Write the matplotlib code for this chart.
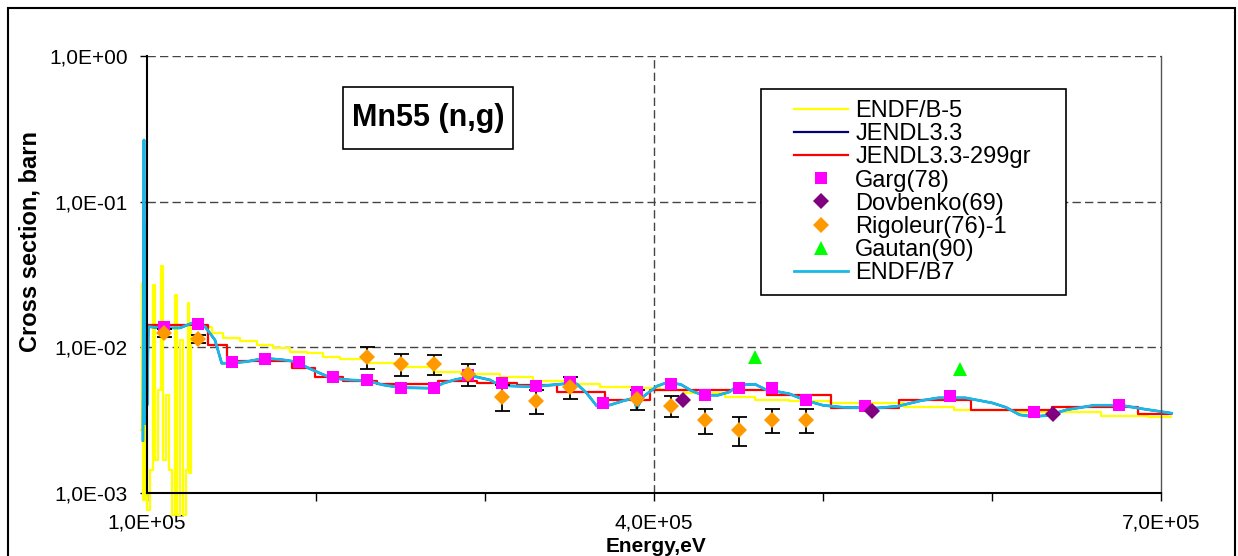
import matplotlib
matplotlib.use("Agg")
import matplotlib.pyplot as plt
from matplotlib.patches import Rectangle

plt.rcParams['font.family'] = ['Liberation Sans', 'DejaVu Sans']

# ENDF/B-5 (yellow), energy in keV
endf5_e = [96.7, 97.0, 97.6, 98.8, 100.0, 101.8, 103.6, 104.7, 106.5, 108.0, 109.5,
           111.2, 113.0, 114.8, 116.6, 117.8, 119.5, 121.3, 123.1, 124.4, 125.1, 126.0,
           133.3, 138.3, 145.1, 155.0, 164.9, 174.7, 184.6, 194.5, 204.3, 214.2,
           230.0, 249.7, 269.4, 289.2, 308.9, 328.6, 348.3, 368.0, 387.8, 403.6,
           417.8, 441.8, 459.9, 480.0, 504.1, 547.9, 577.3, 612.4, 664.5, 692.3, 706.2]
endf5_v = [0.0027, 0.0277, 0.0009, 0.0032, 0.00077, 0.00144, 0.0268, 0.00169, 0.0051, 0.0359, 0.00169,
           0.0047, 0.00144, 0.00071, 0.0229, 0.00071, 0.0112, 0.00071, 0.00144, 0.0202, 0.00138, 0.0136,
           0.01387, 0.0125, 0.01154, 0.01111, 0.01038, 0.00986, 0.00934, 0.0091, 0.00863, 0.00828,
           0.00785, 0.00730, 0.00681, 0.00657, 0.00623, 0.00588, 0.00561, 0.00537, 0.00524, 0.00510,
           0.00483, 0.00454, 0.00433, 0.00426, 0.00415, 0.00389, 0.00369, 0.00359, 0.00338, 0.00330, 0.00330]

# ENDF/B7 (and JENDL3.3, which lies underneath it)
b7_e = [97.6, 98.2, 98.8, 99.4, 100.0, 100.8, 107.7, 119.5, 127.4, 134.3, 140.2, 144.2, 149.1,
        159.0, 169.8, 180.7, 189.5, 194.5, 202.4, 209.3, 220.1, 230.0, 239.8, 249.7, 269.4,
        275.3, 283.3, 294.1, 303.0, 308.9, 328.6, 346.3, 354.3, 360.2, 366.1, 374.0, 381.8,
        387.8, 389.8, 393.7, 401.8, 407.7, 415.8, 421.8, 428.8, 437.9, 444.8, 449.9, 459.9,
        465.9, 480.0, 490.0, 500.0, 512.1, 532.1, 544.1, 558.2, 568.2, 584.3, 600.3, 608.3,
        616.4, 624.4, 632.4, 644.4, 660.5, 676.5, 688.6, 706.2]
b7_v = [0.0023, 0.265, 0.003, 0.07, 0.004, 0.01387, 0.01359, 0.01359, 0.01479, 0.01387, 0.01124,
        0.00778, 0.00778, 0.00798, 0.00842, 0.00820, 0.00791, 0.00730, 0.00664, 0.00614, 0.00597,
        0.00591, 0.00552, 0.00529, 0.00524, 0.00567, 0.00604, 0.00630, 0.00597, 0.00546, 0.00537,
        0.00561, 0.00561, 0.00484, 0.00396, 0.00402, 0.00429, 0.00448, 0.00382, 0.00459, 0.00542,
        0.00573, 0.00557, 0.00506, 0.00469, 0.00469, 0.00495, 0.00551, 0.00557, 0.00514, 0.00480,
        0.00431, 0.00400, 0.00387, 0.00383, 0.00394, 0.00431, 0.00450, 0.00450, 0.00415, 0.00387,
        0.00344, 0.00335, 0.00340, 0.00373, 0.00400, 0.00400, 0.00379, 0.00353]

# JENDL3.3-299gr group values (steps)
j299_e = [97.6, 100.6, 136.3, 147.2, 185.6, 199.4, 216.2, 235.9, 272.4, 295.1, 318.8,
          342.4, 371.0, 397.6, 466.9, 505.0, 545.1, 587.3, 635.4, 686.6, 706.2]
j299_v = [0.0099, 0.01425, 0.01038, 0.00807, 0.00719, 0.00625, 0.00591, 0.00558, 0.00588, 0.00573,
          0.00552, 0.00492, 0.00436, 0.00510, 0.00469, 0.00383, 0.00438, 0.00369, 0.00387, 0.00348, 0.00348]

garg_e = [110, 130, 150, 170, 190, 210, 230, 250, 270, 290, 310, 330, 350, 370, 390,
          410, 430, 450, 470, 490, 525, 575, 625, 675]
garg_v = [0.01374, 0.01448, 0.00798, 0.00828, 0.00798, 0.00622, 0.00597, 0.00529, 0.00529,
          0.00647, 0.00567, 0.00546, 0.00576, 0.00413, 0.00497, 0.00557, 0.00474, 0.00522,
          0.00522, 0.00433, 0.00394, 0.00462, 0.00359, 0.00404]

dovb_e = [417, 529, 636]
dovb_v = [0.00438, 0.00363, 0.00350]

rig_e = [110, 130, 230, 250, 270, 290, 310, 330, 350, 390, 410, 430, 450, 470, 490]
rig_v = [0.01262, 0.01142, 0.00863, 0.00766, 0.00766, 0.00653, 0.00459, 0.00431, 0.00537,
         0.00442, 0.00397, 0.00318, 0.00270, 0.00318, 0.00318]
rig_err = [0.0008, 0.00073, 0.0015, 0.0013, 0.00119, 0.00113, 0.00093, 0.0008, 0.00093,
           0.00071, 0.00065, 0.00062, 0.0006, 0.0006, 0.0006]

gaut_e = [460, 581]
gaut_v = [0.00855, 0.00708]

yticks = [1e-3, 1e-2, 1e-1, 1.0]
ytick_labels = ['1,0E-03', '1,0E-02', '1,0E-01', '1,0E+00']
xticks = [1e5, 4e5, 7e5]
xtick_labels = ['1,0E+05', '4,0E+05', '7,0E+05']
xminor = [2e5, 3e5, 5e5, 6e5]

W, H = 1238, 556


def fx(px):
    return px / W


def fy(py):
    return 1 - py / H


def kev(lst):
    return [e * 1e3 for e in lst]


fig = plt.figure(figsize=(W / 100, H / 100), dpi=100)
ax = fig.add_axes([fx(147), fy(493), fx(1161) - fx(147), fy(56) - fy(493)])

l_b5, = ax.plot(kev(endf5_e), endf5_v, color='#FFFF00', lw=1.6, drawstyle='steps-post',
                clip_on=False, zorder=2)
l_j33, = ax.plot(kev(b7_e), b7_v, color='#000080', lw=1.6, clip_on=False, zorder=2.1)
l_299, = ax.plot(kev(j299_e), j299_v, color='#FF0000', lw=1.6, drawstyle='steps-post',
                 clip_on=False, zorder=2.2)
l_b7, = ax.plot(kev(b7_e), b7_v, color='#19B8E6', lw=2.0, clip_on=False, zorder=2.3)

ax.errorbar(kev(rig_e), rig_v, yerr=rig_err, fmt='none', ecolor='black', elinewidth=1.3,
            capsize=5.4, capthick=1.3, zorder=3)
m_garg, = ax.plot(kev(garg_e), garg_v, 's', color='#FF00FF', ms=8.6, mew=0, zorder=4)
m_dov, = ax.plot(kev(dovb_e), dovb_v, 'D', color='#800080', ms=8.5, mew=0, zorder=4)
m_rig, = ax.plot(kev(rig_e), rig_v, 'D', color='#FF9900', ms=8.5, mew=0, zorder=4)
m_gau, = ax.plot(kev(gaut_e), gaut_v, '^', color='#00FF00', ms=10, mew=0, zorder=4)

ax.set_yscale('log')
ax.set_xlim(1e5, 7e5)
ax.set_ylim(1e-3, 1)
ax.set_yticks(yticks)
ax.set_yticklabels(ytick_labels)
ax.yaxis.set_minor_locator(matplotlib.ticker.NullLocator())
ax.set_xticks(xticks)
ax.set_xticklabels(xtick_labels)
ax.set_xticks(xminor, minor=True)
ax.tick_params(axis='y', which='major', direction='out', length=5, width=1, labelsize=15, pad=9)
ax.tick_params(axis='x', which='both', direction='out', length=6, width=1, labelsize=15, pad=9)

ax.yaxis.grid(True, which='major', color='#444444', lw=1, ls=(0, (6, 3)))
ax.axvline(4e5, color='#444444', lw=1, ls=(0, (6, 3)), zorder=1)
ax.spines['top'].set_visible(False)
ax.spines['right'].set_color('#555555')
ax.spines['right'].set_linewidth(1)
ax.spines['left'].set_linewidth(1.5)
ax.spines['bottom'].set_linewidth(1.5)

fig.text(fx(30), fy(241), 'Cross section, barn', rotation=90, ha='center', va='center',
         fontsize=17, fontweight='bold')
fig.text(fx(656), fy(546), 'Energy,eV', ha='center', va='center', fontsize=15, fontweight='bold')

# title box
fig.patches.append(Rectangle((fx(343), fy(149)), fx(513) - fx(343), fy(87) - fy(149),
                             transform=fig.transFigure, fc='white', ec='black', lw=1.2, zorder=5))
fig.text(fx(428), fy(118), 'Mn55 (n,g)', ha='center', va='center', fontsize=22,
         fontweight='bold', zorder=6)

# legend frame and entries
fig.patches.append(Rectangle((fx(761), fy(295)), fx(1066) - fx(761), fy(89) - fy(295),
                             transform=fig.transFigure, fc='white', ec='black', lw=1.2, zorder=5))
leg = fig.legend([l_b5, l_j33, l_299, m_garg, m_dov, m_rig, m_gau, l_b7],
                 ['ENDF/B-5', 'JENDL3.3', 'JENDL3.3-299gr', 'Garg(78)', 'Dovbenko(69)',
                  'Rigoleur(76)-1', 'Gautan(90)', 'ENDF/B7'],
                 loc='upper left', bbox_to_anchor=(fx(794), fy(100)), frameon=False,
                 borderpad=0, borderaxespad=0, fontsize=17, handlelength=2.29,
                 handletextpad=0.3, labelspacing=0.05)
leg.set_zorder(6)

# outer chart border
fig.patches.append(Rectangle((fx(8), fy(560)), fx(1235) - fx(8), fy(8) - fy(560),
                             transform=fig.transFigure, fc='none', ec='black', lw=1.5, zorder=7))

fig.savefig('out.png', dpi=100)
